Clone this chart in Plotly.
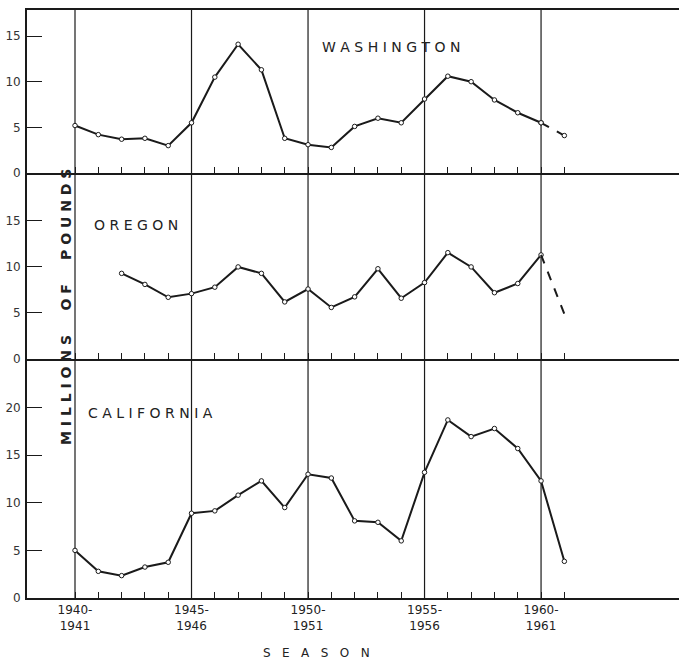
import plotly.graph_objects as go

years = list(range(1940, 1962))
washington = [5.2, 4.2, 3.7, 3.8, 3.0, 5.5, 10.5, 14.1, 11.3, 3.8, 3.1, 2.8,
              5.1, 6.0, 5.5, 8.1, 10.6, 10.0, 8.0, 6.6, 5.5, 4.1]
oregon_years = list(range(1942, 1962))
oregon = [9.3, 8.1, 6.7, 7.1, 7.8, 10.0, 9.3, 6.2, 7.6, 5.6,
          6.75, 9.8, 6.6, 8.3, 11.55, 10.0, 7.2, 8.2, 11.3, 4.9]
california = [5.0, 2.8, 2.35, 3.25, 3.75, 8.9, 9.15, 10.8, 12.3, 9.5, 13.0, 12.6,
              8.1, 7.95, 6.0, 13.2, 18.7, 16.95, 17.8, 15.7, 12.3, 3.85]
label_years = [1940, 1945, 1950, 1955, 1960]
tick_text = [f"{y}-<br>{y+1}" if y in label_years else "" for y in years]

FONT = "DejaVu Sans"
INK = "#1a1a1a"
NB = "\u00a0"

def spaced(s, gap=1, wordgap=3):
    words = s.split(" ")
    return (NB * wordgap).join((NB * gap).join(list(w)) for w in words)

fig = go.Figure()

mk = dict(symbol="circle", size=4.5, color="white", line=dict(color=INK, width=1))

# Washington (x3, y3)
fig.add_trace(go.Scatter(x=years[:-1], y=washington[:-1], mode="lines+markers",
                         line=dict(color=INK, width=2), marker=mk, xaxis="x3", yaxis="y3"))
fig.add_trace(go.Scatter(x=years[-2:], y=washington[-2:], mode="lines+markers",
                         line=dict(color=INK, width=2, dash="dash"), marker=mk, xaxis="x3", yaxis="y3"))
# Oregon (x2, y2)
fig.add_trace(go.Scatter(x=oregon_years[:-1], y=oregon[:-1], mode="lines+markers",
                         line=dict(color=INK, width=2), marker=mk, xaxis="x2", yaxis="y2"))
fig.add_trace(go.Scatter(x=oregon_years[-2:], y=oregon[-2:], mode="lines",
                         line=dict(color=INK, width=2, dash="dash"), xaxis="x2", yaxis="y2"))
# California (x, y)
fig.add_trace(go.Scatter(x=years, y=california, mode="lines+markers",
                         line=dict(color=INK, width=2), marker=mk, xaxis="x", yaxis="y"))

xr = [1937.94, 1965.92]
xcommon = dict(range=xr, tickmode="array", tickvals=years, ticks="inside", ticklen=6,
               tickwidth=1.2, tickcolor=INK, showgrid=False, zeroline=False,
               showline=True, linecolor=INK, linewidth=1.8, fixedrange=True)
ycommon = dict(ticks="inside", ticklen=15, tickwidth=1.2, tickcolor=INK, showgrid=False,
               zeroline=False, showline=True, linecolor=INK, linewidth=1.8,
               tickfont=dict(family=FONT, size=12, color="#333"), ticklabelstandoff=2)

d1 = 239 / 588
d2 = 425 / 588
fig.update_layout(
    width=679, height=659, margin=dict(l=27, r=0, t=10, b=61),
    paper_bgcolor="white", plot_bgcolor="white", showlegend=False,
    xaxis=dict(**xcommon, anchor="y", ticktext=tick_text,
               tickfont=dict(family=FONT, size=12, color="#222")),
    xaxis2=dict(**xcommon, anchor="y2", showticklabels=False, matches="x"),
    xaxis3=dict(**xcommon, anchor="y3", showticklabels=False, matches="x", mirror=True),
    yaxis=dict(**ycommon, domain=[0, d1], range=[0, 25.1], tickvals=[0, 5, 10, 15, 20]),
    yaxis2=dict(**ycommon, domain=[d1, d2], range=[0, 20.2], tickvals=[0, 5, 10, 15]),
    yaxis3=dict(**ycommon, domain=[d2, 1], range=[0, 17.85], tickvals=[0, 5, 10, 15]),
)

for yv in label_years:
    fig.add_shape(type="line", xref="x", yref="paper", x0=yv, x1=yv, y0=0, y1=1,
                  line=dict(color=INK, width=1.2), layer="below")

def ann(text, x, y, size=14, bold=False, angle=0):
    fig.add_annotation(text=f"<b>{text}</b>" if bold else text, x=x, y=y, xref="paper", yref="paper",
                       xanchor="center", yanchor="middle",
                       showarrow=False, textangle=angle,
                       font=dict(family=FONT, size=size, color="#222"))

pw, ph = 652, 588
def px(xp): return (xp - 27) / pw
def py(yp): return (598 - yp) / ph

ann(spaced("WASHINGTON"), px(391), py(47))
ann(spaced("OREGON", 1), px(136), py(225))
ann(spaced("CALIFORNIA"), px(150), py(413))
ann(spaced("MILLIONS OF POUNDS", 1, 5), px(66), py(307), size=14, bold=True, angle=-90)
ann(spaced("SEASON", 3), px(316), py(653), size=12)

fig.write_html("out.html")
